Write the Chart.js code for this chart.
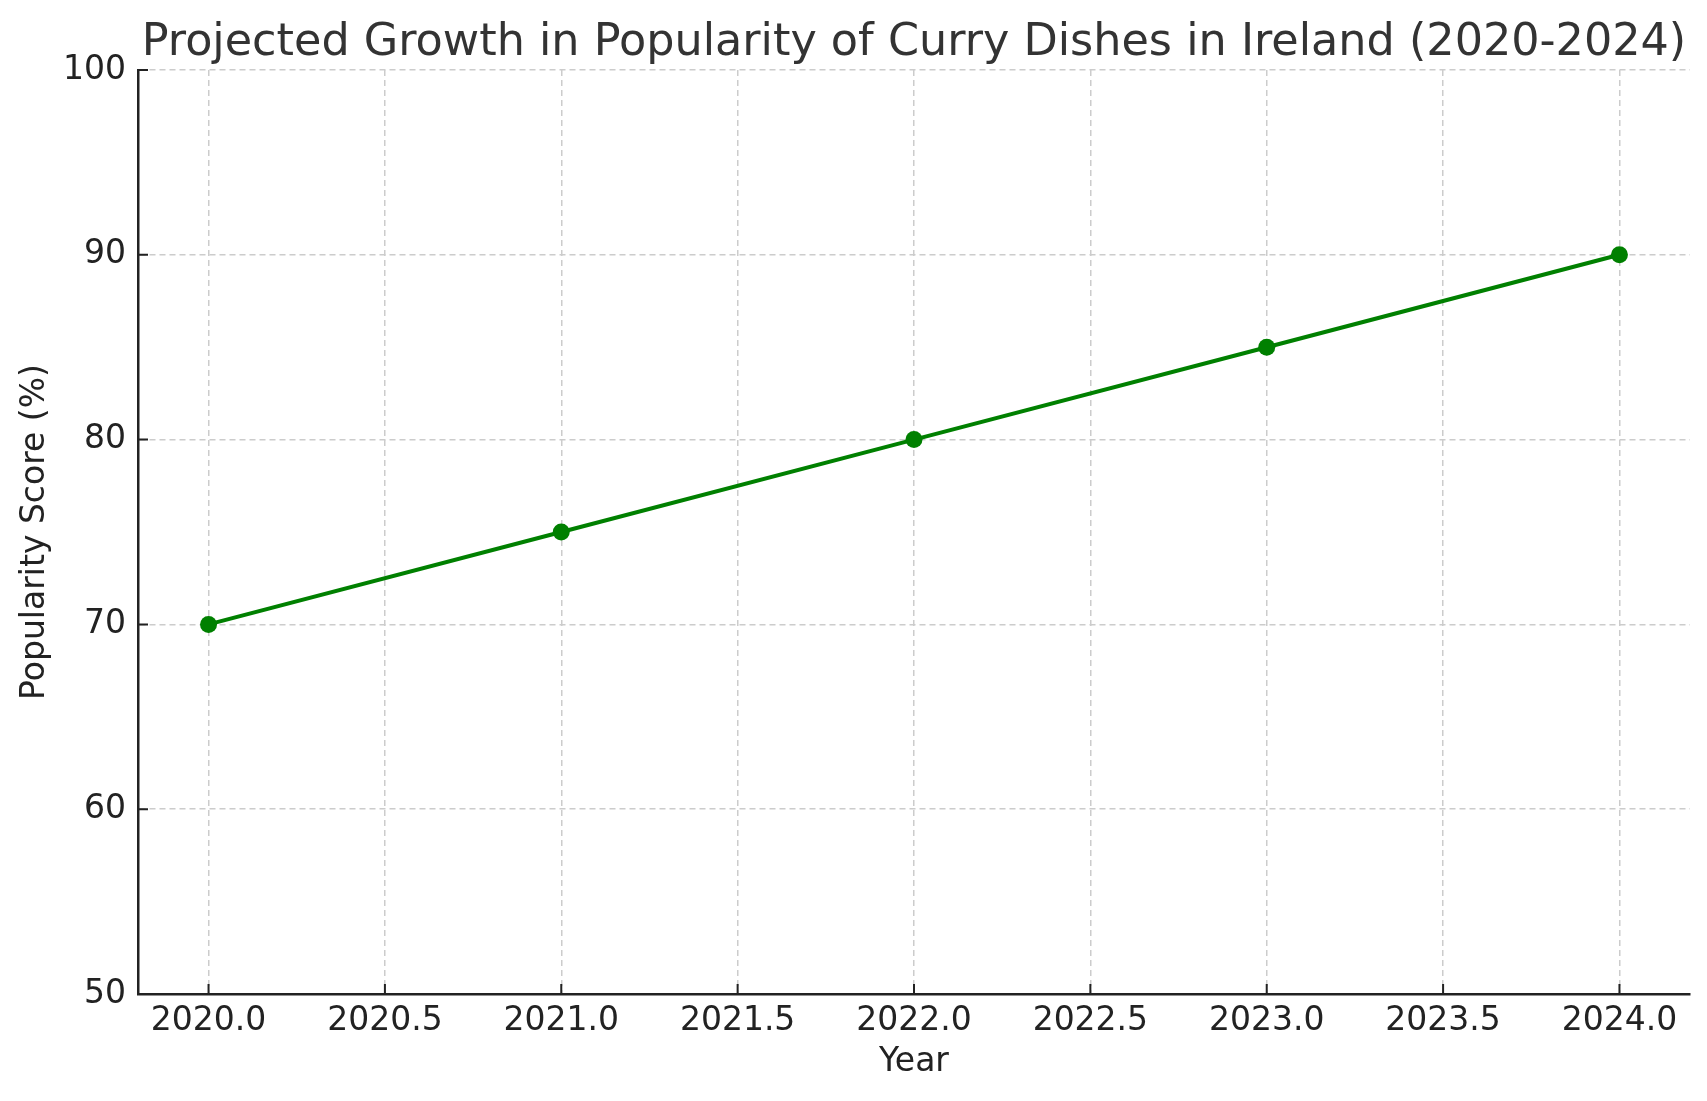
<!DOCTYPE html>
<html>
<head>
<meta charset="utf-8">
<title>Curry popularity</title>
<script src="https://cdn.jsdelivr.net/npm/chart.js@4.4.1/dist/chart.umd.min.js"></script>
<style>
  html, body { margin: 0; padding: 0; background: #fff; }
  #wrap { width: 1707px; height: 1101px; position: relative; }
</style>
</head>
<body>
<div id="wrap"><canvas id="chart"></canvas></div>
<script>
// Data
const years = [2020, 2021, 2022, 2023, 2024];
const scores = [70, 75, 80, 85, 90];
const yTicks = [50, 60, 70, 80, 90, 100];

const chartTitle = 'Projected Growth in Popularity of Curry Dishes in Ireland (2020-2024)';
const axisColor = '#222222';
const gridColor = '#cccccc';
const fontFamily = "'DejaVu Sans', sans-serif";

// Title centred on the plot area, plus inward tick marks like the original
const decorations = {
    id: 'decorations',
    afterDraw(chart) {
        const ctx = chart.ctx;
        const area = chart.chartArea;
        const x = chart.scales.x;
        const y = chart.scales.y;
        ctx.save();
        ctx.strokeStyle = axisColor;
        ctx.lineWidth = 2;
        ctx.beginPath();
        x.ticks.forEach(t => {
            const px = x.getPixelForValue(t.value);
            ctx.moveTo(px, area.bottom);
            ctx.lineTo(px, area.bottom - 10);
        });
        yTicks.forEach(v => {
            const py = y.getPixelForValue(v);
            ctx.moveTo(area.left, py);
            ctx.lineTo(area.left + 10, py);
        });
        ctx.stroke();

        ctx.fillStyle = '#333333';
        ctx.font = '44.5px ' + fontFamily;
        ctx.textAlign = 'center';
        ctx.textBaseline = 'alphabetic';
        ctx.fillText(chartTitle, (area.left + area.right) / 2, 55);
        ctx.restore();
    }
};

const ctx = document.getElementById('chart').getContext('2d');
window.curryChart = new Chart(ctx, {
    type: 'line',
    data: {
        labels: years,
        datasets: [{
            label: 'Popularity Score',
            data: years.map((yr, i) => ({ x: yr, y: scores[i] })),
            borderColor: '#008000',
            backgroundColor: '#008000',
            borderWidth: 4,
            pointRadius: 8.5,
            pointHoverRadius: 8.5,
            pointBorderWidth: 0,
            pointBackgroundColor: '#008000',
            tension: 0,
            fill: false
        }]
    },
    options: {
        responsive: true,
        maintainAspectRatio: false,
        animation: false,
        devicePixelRatio: 1,
        layout: {
            padding: { top: 70, right: 17, left: 0, bottom: 0 }
        },
        plugins: {
            legend: { display: false },
            title: { display: false },
            tooltip: { enabled: false }
        },
        scales: {
            x: {
                type: 'linear',
                min: 2019.8,
                max: 2024.2,
                afterFit(scale) { scale.height = 107; },
                ticks: {
                    stepSize: 0.5,
                    includeBounds: false,
                    padding: 8,
                    color: axisColor,
                    font: { family: fontFamily, size: 33 },
                    maxRotation: 0,
                    autoSkip: false,
                    callback: v => Number(v).toFixed(1)
                },
                grid: {
                    color: gridColor,
                    lineWidth: 1.5,
                    drawTicks: false
                },
                // in v4 border.dash styles the grid lines
                border: {
                    display: true,
                    color: axisColor,
                    width: 2.5,
                    dash: [6, 4]
                },
                title: {
                    display: true,
                    text: 'Year',
                    color: axisColor,
                    font: { family: fontFamily, size: 33 },
                    padding: { top: 0, bottom: 19 }
                }
            },
            y: {
                min: 50,
                max: 100,
                afterFit(scale) { scale.width = 138; },
                ticks: {
                    stepSize: 10,
                    padding: 12,
                    color: axisColor,
                    font: { family: fontFamily, size: 33 }
                },
                grid: {
                    color: gridColor,
                    lineWidth: 1.5,
                    drawTicks: false
                },
                border: {
                    display: true,
                    color: axisColor,
                    width: 2.5,
                    dash: [6, 4]
                },
                title: {
                    display: true,
                    text: 'Popularity Score (%)',
                    color: axisColor,
                    font: { family: fontFamily, size: 33 },
                    padding: { top: 16, bottom: 0 }
                }
            }
        }
    },
    plugins: [decorations]
});
</script>
</body>
</html>
